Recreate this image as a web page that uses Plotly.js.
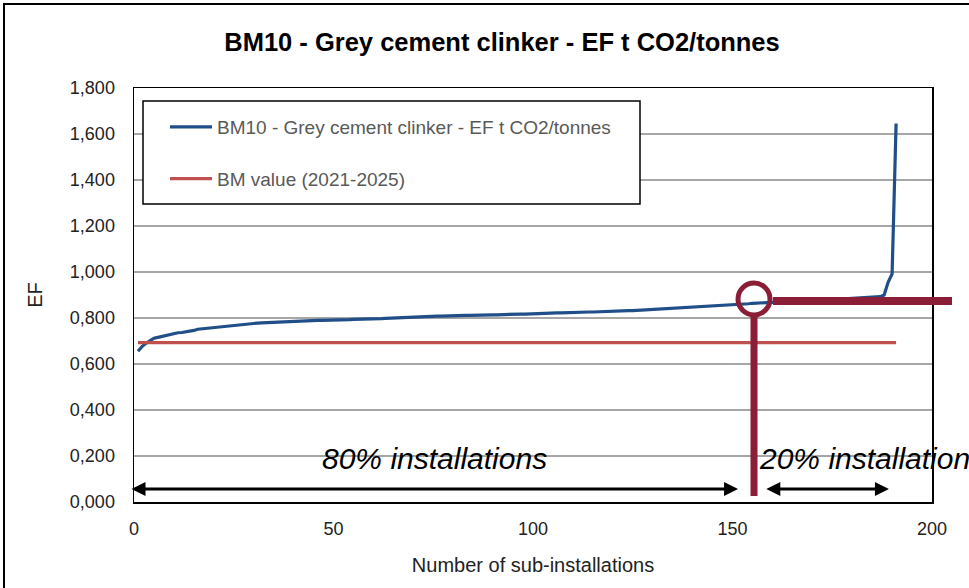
<!DOCTYPE html>
<html>
<head>
<meta charset="utf-8">
<script src="https://cdn.plot.ly/plotly-3.0.1.min.js"></script>
<style>html,body{margin:0;padding:0;background:#fff;}#chart{width:969px;height:588px;}</style>
</head>
<body>
<div id="chart"></div>
<script>
// Emission factors of the sub-installations, sorted ascending (t CO2 / t clinker)
const efValues = [
0.655,0.676,0.690,0.703,0.712,0.716,0.720,0.723,0.729,0.734,
0.736,0.737,0.739,0.742,0.746,0.751,0.753,0.754,0.756,0.759,
0.761,0.763,0.764,0.766,0.768,0.769,0.771,0.773,0.775,0.777,
0.778,0.779,0.780,0.781,0.782,0.783,0.784,0.785,0.786,0.787,
0.787,0.788,0.788,0.789,0.789,0.790,0.790,0.790,0.791,0.791,
0.791,0.792,0.793,0.793,0.794,0.794,0.795,0.795,0.796,0.796,
0.797,0.797,0.798,0.799,0.800,0.801,0.802,0.803,0.804,0.805,
0.805,0.806,0.806,0.807,0.807,0.808,0.808,0.809,0.809,0.809,
0.810,0.810,0.811,0.811,0.812,0.812,0.812,0.813,0.813,0.814,
0.814,0.815,0.815,0.815,0.816,0.816,0.817,0.817,0.818,0.818,
0.819,0.820,0.820,0.821,0.821,0.822,0.822,0.823,0.823,0.824,
0.824,0.825,0.825,0.826,0.826,0.827,0.828,0.828,0.829,0.829,
0.830,0.830,0.831,0.832,0.832,0.833,0.834,0.834,0.835,0.836,
0.836,0.837,0.838,0.839,0.840,0.841,0.842,0.843,0.844,0.845,
0.846,0.847,0.848,0.849,0.850,0.851,0.852,0.853,0.855,0.857,
0.858,0.859,0.861,0.862,0.864,0.865,0.866,0.867,0.868,0.869,
0.869,0.870,0.871,0.871,0.872,0.873,0.873,0.874,0.875,0.876,
0.876,0.877,0.878,0.879,0.879,0.880,0.881,0.882,0.883,0.884,
0.885,0.886,0.887,0.888,0.889,0.891,0.893,0.900,0.955,0.992,
1.646
];
const installNo = efValues.map((v, i) => i + 1);
const bmX = [1, 191];
const bmY = [0.693, 0.693];
const seriesNames = ["BM10 - Grey cement clinker - EF t CO2/tonnes", "BM value (2021-2025)"];
const labels80 = "80% installations";
const labels20 = "20% installations";

const FONT = "Liberation Sans, Arial, sans-serif";
const DARKRED = "#8C1D36";
// pixel -> paper / data helpers for decorative shapes
const L = 134, R = 932, T = 88, B = 502;
const px = x => (x - L) / (R - L);
const py = y => (B - y) / (B - T);
const dx = x => px(x) * 200;
const dy = y => py(y) * 1.8;

const traces = [
  {x: installNo, y: efValues, type: "scatter", mode: "lines", name: seriesNames[0],
   line: {color: "#1F4E89", width: 3.2}, legendgroup: "a"},
  {x: bmX, y: bmY, type: "scatter", mode: "lines", name: seriesNames[1],
   line: {color: "#C0504D", width: 3.2}, legendgroup: "b"}
];

const layout = {
  width: 969, height: 588,
  margin: {l: L, r: 969 - R, t: T, b: 588 - B},
  paper_bgcolor: "#fff", plot_bgcolor: "#fff",
  separators: ",.",
  font: {family: FONT, color: "#222", size: 18},
  title: {text: "<b>BM10 - Grey cement clinker - EF t CO2/tonnes</b>", x: 502/969, xref: "container",
          xanchor: "center", y: 1 - 42/588, yanchor: "middle",
          font: {family: FONT, size: 25.5, color: "#000"}},
  xaxis: {range: [0, 200], dtick: 50, tick0: 0, showgrid: false, zeroline: false,
          showline: true, mirror: true, linecolor: "#000", linewidth: 1.5,
          ticks: "", ticklabelstandoff: 10, tickfont: {size: 18, color: "#222"},
          title: {text: "Number of sub-installations", standoff: 20, font: {size: 20, color: "#222"}}},
  yaxis: {range: [0, 1.8], dtick: 0.2, tick0: 0, tickformat: ".3f",
          showgrid: true, gridcolor: "#a6a6a6", gridwidth: 1.5, zeroline: false,
          showline: true, mirror: true, linecolor: "#000", linewidth: 1.5,
          ticks: "", ticklabelstandoff: 14, tickfont: {size: 18, color: "#222"},
          title: {text: "EF", standoff: 22, font: {size: 20, color: "#222"}}},
  showlegend: true,
  legend: {x: px(165), y: py(108), xanchor: "left", yanchor: "top",
           bgcolor: "rgba(0,0,0,0)", borderwidth: 0, traceorder: "grouped",
           tracegroupgap: 24, itemwidth: 42,
           font: {family: FONT, size: 19, color: "#595959"}},
  shapes: [
    // outer chart frame
    {type: "rect", xref: "paper", yref: "paper", x0: px(4), x1: px(990), y0: py(600), y1: py(4),
     line: {color: "#000", width: 2}, fillcolor: "rgba(0,0,0,0)", layer: "above"},
    // legend frame (covers gridlines, under traces)
    {type: "rect", xref: "x", yref: "y", x0: dx(143), x1: dx(640), y0: dy(204), y1: dy(101),
     line: {color: "#000", width: 1.5}, fillcolor: "#fff", layer: "between"},
    // highlight circle
    {type: "circle", xref: "paper", yref: "paper", x0: px(754 - 16), x1: px(754 + 16), y0: py(299 + 16), y1: py(299 - 16),
     line: {color: DARKRED, width: 5}, layer: "above"},
    // vertical marker bar
    {type: "line", xref: "paper", yref: "paper", x0: px(754), x1: px(754), y0: py(316), y1: py(496),
     line: {color: DARKRED, width: 7}, layer: "above"},
    // horizontal marker bar
    {type: "line", xref: "paper", yref: "paper", x0: px(773), x1: px(952), y0: py(301), y1: py(301),
     line: {color: DARKRED, width: 8}, layer: "above"}
  ],
  annotations: [
    {x: 75.2, y: 0.187, xref: "x", yref: "y", text: "<i>" + labels80 + "</i>", showarrow: false,
     xanchor: "center", yanchor: "middle", font: {family: FONT, size: 30, color: "#000"}},
    {x: 156.2, y: 0.187, xref: "x", yref: "y", text: "<i>" + labels20 + "</i>", showarrow: false,
     xanchor: "left", yanchor: "middle", font: {family: FONT, size: 30, color: "#000"}},
    {x: 151.4, y: 0.0565, ax: -1.0, ay: 0.0565, xref: "x", yref: "y", axref: "x", ayref: "y",
     text: "", showarrow: true, arrowhead: 2, arrowside: "end+start", arrowsize: 1, arrowwidth: 2.8, arrowcolor: "#000"},
    {x: 189.2, y: 0.0565, ax: 158.1, ay: 0.0565, xref: "x", yref: "y", axref: "x", ayref: "y",
     text: "", showarrow: true, arrowhead: 2, arrowside: "end+start", arrowsize: 1, arrowwidth: 2.8, arrowcolor: "#000"}
  ]
};

Plotly.newPlot("chart", traces, layout, {displayModeBar: false, staticPlot: true});
</script>
</body>
</html>
